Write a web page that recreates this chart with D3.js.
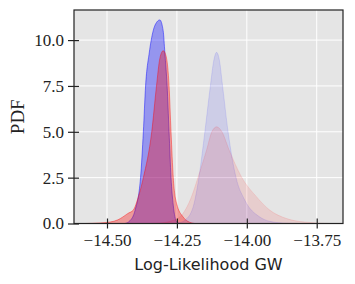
<!DOCTYPE html>
<html>
<head>
<meta charset="utf-8">
<script src="https://cdn.jsdelivr.net/npm/d3@7"></script>
<style>
  body { margin: 0; background: #fff; }
  svg { display: block; }
</style>
</head>
<body>
<svg id="chart" width="355" height="284"></svg>
<script>
const blueDarkX = [-14.436, -14.418, -14.400, -14.380, -14.370, -14.362, -14.349, -14.335, -14.321, -14.311, -14.299, -14.293, -14.285, -14.278, -14.271, -14.263, -14.251, -14.239];
const blueDarkY = [0, 0.15, 0.7, 2.5, 5.0, 7.5, 9.3, 10.5, 11.0, 11.1, 10.5, 9.3, 7.5, 5.0, 2.5, 1.0, 0.1, 0];

const redDarkX = [-14.579, -14.525, -14.489, -14.461, -14.443, -14.425, -14.406, -14.388, -14.370, -14.340, -14.323, -14.311, -14.299, -14.290, -14.278, -14.271, -14.263, -14.251, -14.228, -14.211, -14.186];
const redDarkY = [0, 0.03, 0.08, 0.2, 0.36, 0.55, 0.73, 1.45, 2.5, 5.0, 7.5, 9.0, 9.42, 9.2, 7.5, 5.0, 2.5, 1.09, 0.36, 0.12, 0];

const blueLightX = [-14.257, -14.239, -14.221, -14.192, -14.171, -14.150, -14.130, -14.118, -14.108, -14.098, -14.087, -14.067, -14.039, -14.007, -13.954, -13.918, -13.864, -13.811];
const blueLightY = [0, 0.05, 0.18, 0.9, 2.54, 5.0, 7.54, 8.9, 9.33, 8.9, 7.54, 5.0, 2.54, 1.27, 0.36, 0.12, 0.02, 0];

const redLightX = [-14.346, -14.293, -14.268, -14.239, -14.198, -14.174, -14.144, -14.125, -14.108, -14.089, -14.063, -14.019, -13.965, -13.918, -13.858, -13.793, -13.704];
const redLightY = [0, 0.05, 0.15, 0.36, 1.45, 2.54, 4.0, 5.0, 5.27, 5.0, 4.0, 2.54, 1.45, 0.73, 0.27, 0.08, 0];

const xTicks = [-14.50, -14.25, -14.00, -13.75];
const yTicks = [0, 2.5, 5.0, 7.5, 10.0];

const series = [
    { xs: blueDarkX, ys: blueDarkY, color: "#0000ff", fill: 0.35, line: 0.45 },
    { xs: redDarkX, ys: redDarkY, color: "#ff0000", fill: 0.33, line: 0.4 },
    { xs: blueLightX, ys: blueLightY, color: "#0000ff", fill: 0.1, line: 0.1 },
    { xs: redLightX, ys: redLightY, color: "#ff0000", fill: 0.1, line: 0.1 }
];

const svg = d3.select("#chart");
const plotL = 74, plotR = 343, plotT = 10, plotB = 223.5;

const x = d3.scaleLinear().domain([-14.618, -13.656]).range([plotL, plotR]);
const y = d3.scaleLinear().domain([0, 11.64]).range([plotB, plotT]);

// Background
svg.append("rect")
    .attr("x", plotL).attr("y", plotT)
    .attr("width", plotR - plotL).attr("height", plotB - plotT)
    .attr("fill", "#e5e5e5");

// Grid
const grid = svg.append("g");
xTicks.forEach(t => {
    grid.append("line")
        .attr("x1", x(t)).attr("x2", x(t))
        .attr("y1", plotT).attr("y2", plotB)
        .attr("stroke", "#fff").attr("stroke-width", 1);
});
yTicks.forEach(t => {
    grid.append("line")
        .attr("x1", plotL).attr("x2", plotR)
        .attr("y1", y(t)).attr("y2", y(t))
        .attr("stroke", "#fff").attr("stroke-width", 1);
});

// Densities
const area = d3.area()
    .x(d => x(d[0]))
    .y0(y(0))
    .y1(d => y(d[1]))
    .curve(d3.curveMonotoneX);
const line = d3.line()
    .x(d => x(d[0]))
    .y(d => y(d[1]))
    .curve(d3.curveMonotoneX);

series.forEach(s => {
    const pts = s.xs.map((v, i) => [v, s.ys[i]]);
    svg.append("path")
        .datum(pts)
        .attr("d", area)
        .attr("fill", s.color)
        .attr("fill-opacity", s.fill);
    svg.append("path")
        .datum(pts)
        .attr("d", line)
        .attr("fill", "none")
        .attr("stroke", s.color)
        .attr("stroke-opacity", s.line)
        .attr("stroke-width", 1);
});

// Frame
svg.append("rect")
    .attr("x", plotL).attr("y", plotT)
    .attr("width", plotR - plotL).attr("height", plotB - plotT)
    .attr("fill", "none")
    .attr("stroke", "#222").attr("stroke-width", 1.2);

// Axes
const xAxis = d3.axisBottom(x)
    .tickValues(xTicks)
    .tickFormat(d3.format(".2f"))
    .tickSizeInner(5).tickSizeOuter(0).tickPadding(5);
const gx = svg.append("g").attr("transform", `translate(0,${plotB})`).call(xAxis);
gx.select(".domain").remove();
gx.selectAll(".tick line").attr("stroke", "#222").attr("stroke-width", 1.2)
    .attr("y1", -5);

const yAxis = d3.axisLeft(y)
    .tickValues(yTicks)
    .tickFormat(d3.format(".1f"))
    .tickSizeInner(6).tickSizeOuter(0).tickPadding(4);
const gy = svg.append("g").attr("transform", `translate(${plotL},0)`).call(yAxis);
gy.select(".domain").remove();
gy.selectAll(".tick line").attr("stroke", "#222").attr("stroke-width", 1.2)
    .attr("x1", 5);

[gx, gy].forEach(g => {
    g.attr("font-family", "Liberation Serif, serif").attr("font-size", 17);
    g.selectAll(".tick text").attr("fill", "#222");
});

// Labels
svg.append("text")
    .attr("x", (plotL + plotR) / 2)
    .attr("y", 270)
    .attr("text-anchor", "middle")
    .attr("font-family", "DejaVu Sans, sans-serif")
    .attr("font-size", 16)
    .attr("fill", "#222")
    .text("Log-Likelihood GW");

svg.append("text")
    .attr("transform", `translate(24,${(plotT + plotB) / 2}) rotate(-90)`)
    .attr("text-anchor", "middle")
    .attr("font-family", "Liberation Serif, serif")
    .attr("font-size", 19)
    .attr("fill", "#222")
    .text("PDF");
</script>
</body>
</html>
